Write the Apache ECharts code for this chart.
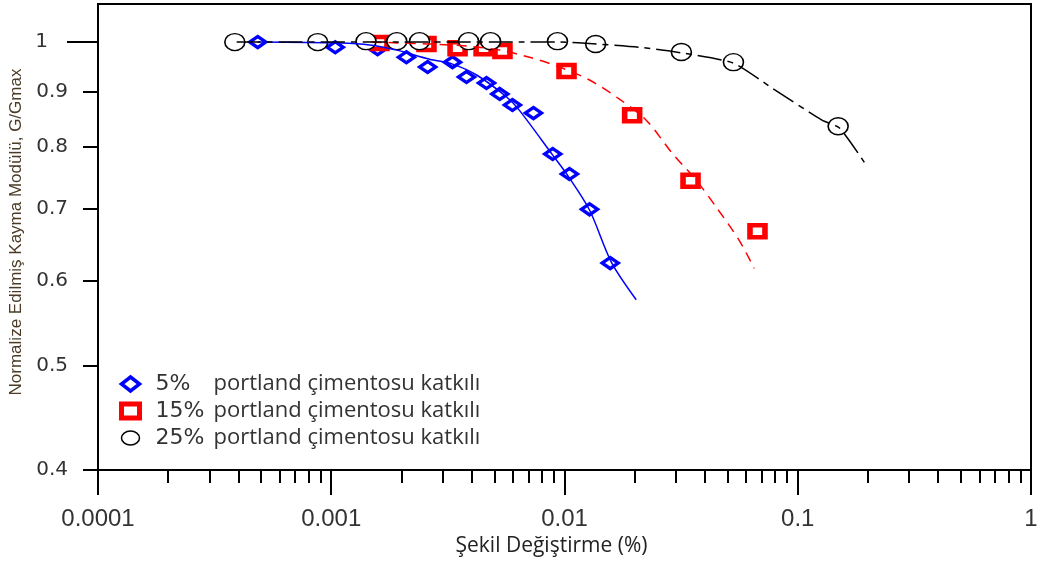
<!DOCTYPE html>
<html>
<head>
<meta charset="utf-8">
<script src="https://cdn.jsdelivr.net/npm/echarts@6/dist/echarts.min.js"></script>
<style>
  html, body { margin: 0; padding: 0; background: #fff; }
  #chart { width: 1041px; height: 561px; }
</style>
</head>
<body>
<div id="chart"></div>
<script>
// Shear strain (%) vs normalised shear modulus G/Gmax, three cement contents
const seriesNames = ['5%', '15%', '25%'];
const legendText = 'portland çimentosu katkılı';

// Measured points [strain %, G/Gmax]
const points5 = [
  [0.000484, 1.000], [0.00104, 0.989], [0.00158, 0.985], [0.0021, 0.968],
  [0.00259, 0.948], [0.00331, 0.958], [0.0038, 0.928], [0.00463, 0.916],
  [0.00528, 0.895], [0.00598, 0.874], [0.00736, 0.859], [0.0089, 0.787],
  [0.0105, 0.754], [0.0128, 0.699], [0.0157, 0.623]
];
const points15 = [
  [0.00161, 0.998], [0.00256, 0.996], [0.00348, 0.987], [0.0045, 0.987],
  [0.00542, 0.981], [0.0102, 0.940], [0.0195, 0.855], [0.0347, 0.743],
  [0.0672, 0.667]
];
const points25 = [
  [0.000386, 1.000], [0.000875, 1.000], [0.00141, 1.002], [0.00191, 1.002],
  [0.00239, 1.002], [0.00388, 1.002], [0.00482, 1.002], [0.00933, 1.002],
  [0.0136, 0.996], [0.0317, 0.979], [0.053, 0.958], [0.149, 0.835]
];

// Fitted curves
const curve5 = [
  [0.000484, 1.000], [0.00109, 0.998], [0.00146, 0.994], [0.00191, 0.983],
  [0.00264, 0.964], [0.00331, 0.954], [0.0042, 0.932], [0.00565, 0.889],
  [0.00641, 0.864], [0.0089, 0.785], [0.0103, 0.752], [0.0128, 0.698],
  [0.0159, 0.624], [0.0203, 0.576]
];
const curve15 = [
  [0.00149, 1.000], [0.00264, 0.996], [0.00392, 0.991], [0.00528, 0.983],
  [0.00708, 0.968], [0.00953, 0.948], [0.0128, 0.922], [0.0172, 0.885],
  [0.0224, 0.846], [0.029, 0.788], [0.0367, 0.744], [0.0448, 0.702],
  [0.0561, 0.654], [0.0651, 0.616]
];
const curve25 = [
  [0.000393, 1.000], [0.00196, 1.000], [0.00641, 1.000], [0.00953, 1.000],
  [0.0137, 0.996], [0.0209, 0.989], [0.032, 0.977], [0.053, 0.956],
  [0.0778, 0.906], [0.127, 0.846], [0.151, 0.832], [0.193, 0.773]
];

// Axis ticks and labels
const xTickLabels = ['0.0001', '0.001', '0.01', '0.1', '1'];
const xMinorTicks = [
  0.0002, 0.0003, 0.0004, 0.0005, 0.0006, 0.0007, 0.0008, 0.0009,
  0.002, 0.003, 0.004, 0.005, 0.006, 0.007, 0.008, 0.009,
  0.02, 0.03, 0.04, 0.05, 0.06, 0.07, 0.08, 0.09,
  0.2, 0.3, 0.4, 0.5, 0.6, 0.7, 0.8, 0.9
];
const yTickValues = [0.4, 0.5, 0.6, 0.7, 0.8, 0.9];
const yTickLabels = ['0.4', '0.5', '0.6', '0.7', '0.8', '0.9'];
const yTopTickValues = [1];
const yTopTickLabels = ['1'];

const BLUE = '#0000ff', RED = '#ff0000', BLACK = '#000000';
const ellipse = 'path://M0,9a10.5,9 0 1,0 21,0a10.5,9 0 1,0 -21,0z';

const markerStyles = [
  { symbol: 'diamond', size: [16, 11], style: { color: '#fff', borderColor: BLUE, borderWidth: 3.5, opacity: 1 } },
  { symbol: 'rect', size: [15, 12], style: { color: '#fff', borderColor: RED, borderWidth: 5, opacity: 1 } },
  { symbol: ellipse, size: [20, 17], style: { color: '#fff', borderColor: BLACK, borderWidth: 1.5, opacity: 1 } }
];

const chart = echarts.init(document.getElementById('chart'), null, { renderer: 'canvas' });

function labelFor(values, labels, v) {
  let best = 0;
  for (let i = 1; i < values.length; i++) {
    if (Math.abs(values[i] - v) < Math.abs(values[best] - v)) best = i;
  }
  return labels[best];
}

const axisLine = { show: true, lineStyle: { color: '#000', width: 2 } };

chart.setOption({
  animation: false,
  backgroundColor: '#fff',
  grid: {
    left: 98, right: 10, top: 4, bottom: 91,
    show: true, borderColor: '#000', borderWidth: 2,
    containLabel: false, outerBoundsMode: 'none'
  },
  legend: {
    orient: 'vertical',
    left: 114, top: 368,
    padding: 5,
    itemWidth: 18, itemHeight: 14, itemGap: 5,
    symbolKeepAspect: false,
    selectedMode: false,
    data: seriesNames.map((n, i) => ({
      name: n,
      icon: markerStyles[i].symbol,
      itemStyle: markerStyles[i].style
    })),
    formatter: name => '{p|' + name + '}{t|' + legendText + '}',
    textStyle: {
      rich: {
        p: { fontFamily: 'DejaVu Sans', fontSize: 22, color: '#333', width: 58, padding: [0, 0, 0, 11], lineHeight: 24 },
        t: { fontFamily: 'Open Sans', fontSize: 22, color: '#333', lineHeight: 24 }
      }
    }
  },
  xAxis: [
    {
      type: 'log', logBase: 10, min: 0.0001, max: 1, position: 'bottom',
      axisLine: axisLine,
      axisTick: { show: true, length: 25, lineStyle: { color: '#000', width: 2 } },
      axisLabel: {
        margin: 37, fontFamily: 'Liberation Sans', fontSize: 24, color: '#333',
        formatter: v => xTickLabels[Math.round(Math.log10(v)) + 4]
      },
      splitLine: { show: false },
      minorTick: { show: false },
      name: 'Şekil Değiştirme (%)',
      nameLocation: 'middle', nameGap: 60,
      nameTextStyle: { fontFamily: 'Open Sans', fontSize: 21, color: '#222', padding: [0, 26, 0, 0] }
    },
    {
      type: 'log', logBase: 10, min: 0.0001, max: 1, position: 'bottom',
      axisLine: { show: false },
      axisTick: { show: true, length: 13, customValues: xMinorTicks, lineStyle: { color: '#000', width: 2 } },
      axisLabel: { show: false },
      splitLine: { show: false }
    }
  ],
  yAxis: [
    {
      type: 'log', logBase: 10, min: 0.4, max: 1.085, position: 'left',
      axisLine: axisLine,
      axisTick: { show: true, length: 15, customValues: yTickValues, lineStyle: { color: '#000', width: 2 } },
      axisLabel: {
        customValues: yTickValues, margin: 30,
        fontFamily: 'DejaVu Sans', fontSize: 20, color: '#333',
        formatter: v => labelFor(yTickValues, yTickLabels, v)
      },
      splitLine: { show: false },
      name: 'Normalize Edilmiş Kayma Modülü, G/Gmax',
      nameLocation: 'middle', nameGap: 70,
      nameTextStyle: { fontFamily: 'Liberation Sans', fontSize: 17, color: '#4a3a26', padding: [0, 0, 0, 10] }
    },
    {
      type: 'log', logBase: 10, min: 0.4, max: 1.085, position: 'left',
      axisLine: { show: false },
      axisTick: { show: true, length: 31, customValues: yTopTickValues, lineStyle: { color: '#000', width: 2 } },
      axisLabel: {
        customValues: yTopTickValues, margin: 50,
        fontFamily: 'DejaVu Sans', fontSize: 20, color: '#333',
        formatter: v => labelFor(yTopTickValues, yTopTickLabels, v)
      },
      splitLine: { show: false }
    }
  ],
  series: [
    {
      name: 'fit5', type: 'line', data: curve5, symbol: 'none', smooth: 0.3, silent: true,
      lineStyle: { color: BLUE, width: 1.5 }
    },
    {
      name: seriesNames[0], type: 'scatter', data: points5,
      symbol: markerStyles[0].symbol, symbolSize: markerStyles[0].size, itemStyle: markerStyles[0].style
    },
    {
      name: 'fit15', type: 'line', data: curve15, symbol: 'none', smooth: 0.3, silent: true,
      lineStyle: { color: RED, width: 1.5, type: [10, 7] }
    },
    {
      name: seriesNames[1], type: 'scatter', data: points15,
      symbol: markerStyles[1].symbol, symbolSize: markerStyles[1].size, itemStyle: markerStyles[1].style
    },
    {
      name: 'fit25', type: 'line', data: curve25, symbol: 'none', smooth: 0.2, silent: true,
      lineStyle: { color: BLACK, width: 1.5, type: [24, 6, 6, 6] }
    },
    {
      name: seriesNames[2], type: 'scatter', data: points25,
      symbol: markerStyles[2].symbol, symbolSize: markerStyles[2].size, itemStyle: markerStyles[2].style
    }
  ]
});
</script>
</body>
</html>
